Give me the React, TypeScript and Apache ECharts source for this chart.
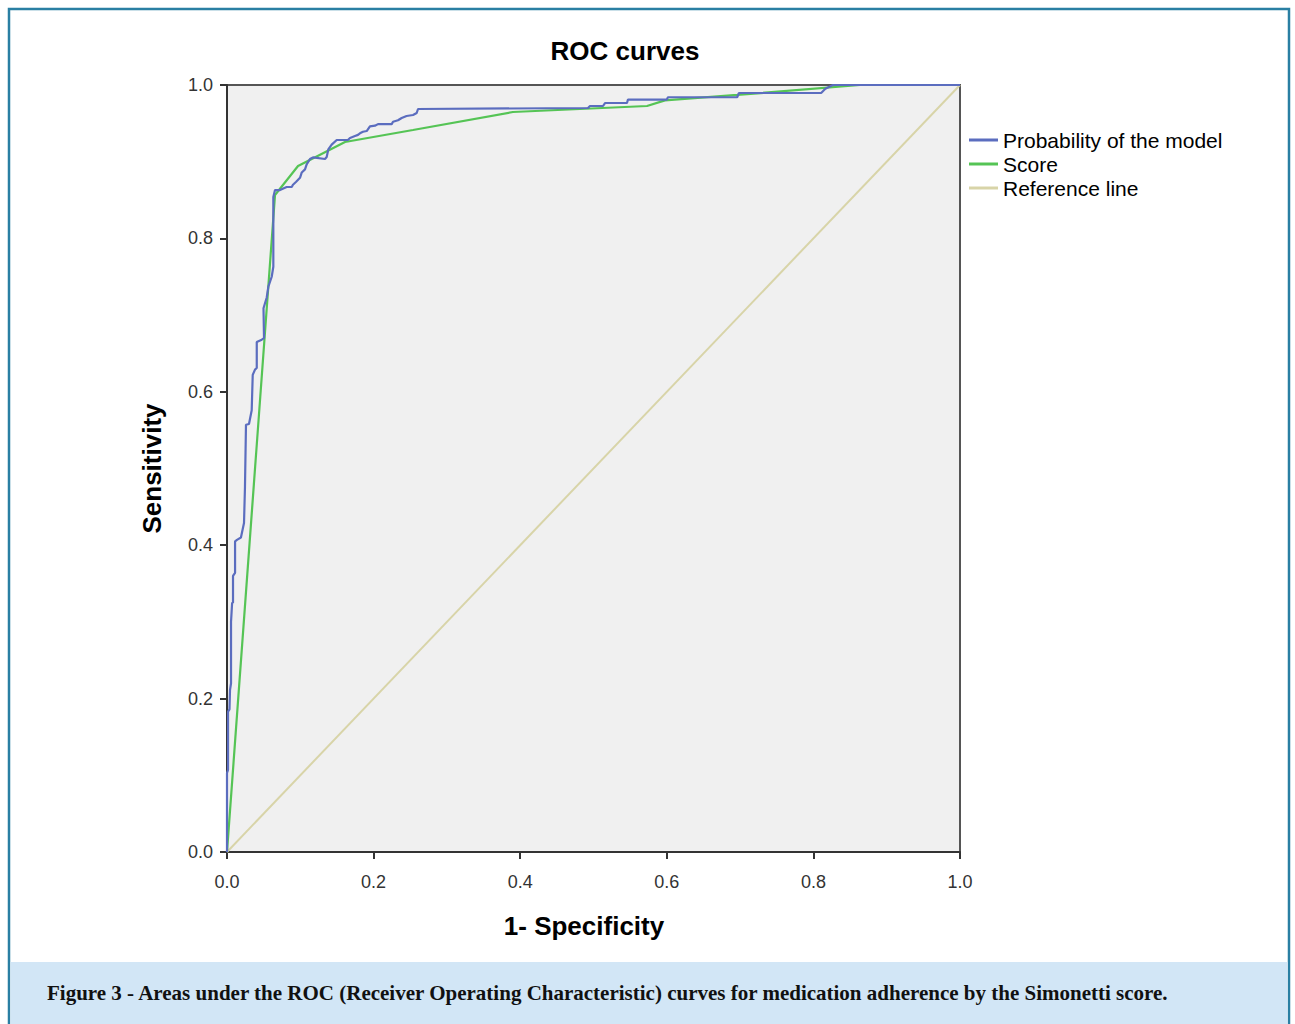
import React, { useEffect, useRef } from "react";
import * as echarts from "echarts";

const seriesNames = ["Probability of the model", "Score", "Reference line"];

// Probability of the model (step ROC curve)
const modelFpr = [0, 0, 0.0014, 0.0014, 0.0034, 0.0041, 0.0055, 0.0055, 0.007, 0.0082, 0.0082, 0.011, 0.011, 0.0136, 0.019, 0.0232, 0.0245, 0.0259, 0.03, 0.0337, 0.0351, 0.0382, 0.0406, 0.0406, 0.0474, 0.0505, 0.0498, 0.0542, 0.0564, 0.061, 0.0632, 0.0632, 0.0655, 0.0723, 0.0814, 0.0883, 0.09, 0.094, 0.0996, 0.102, 0.1064, 0.1087, 0.1132, 0.1173, 0.1337, 0.136, 0.1382, 0.1428, 0.1497, 0.165, 0.1678, 0.1746, 0.1787, 0.1814, 0.1855, 0.1906, 0.195, 0.2019, 0.206, 0.2247, 0.2265, 0.2333, 0.2383, 0.245, 0.2538, 0.2588, 0.2606, 0.4925, 0.4952, 0.513, 0.5157, 0.5457, 0.547, 0.6, 0.6016, 0.696, 0.6985, 0.8106, 0.8163, 0.8267, 1];
const modelTpr = [0, 0.103, 0.107, 0.183, 0.186, 0.211, 0.22, 0.3, 0.325, 0.325, 0.36, 0.364, 0.405, 0.407, 0.41, 0.429, 0.475, 0.557, 0.558, 0.576, 0.622, 0.629, 0.631, 0.665, 0.668, 0.67, 0.709, 0.723, 0.737, 0.75, 0.763, 0.854, 0.863, 0.863, 0.867, 0.867, 0.87, 0.8735, 0.879, 0.886, 0.89, 0.8965, 0.9035, 0.9056, 0.9035, 0.906, 0.916, 0.9222, 0.9283, 0.9283, 0.931, 0.9335, 0.935, 0.937, 0.939, 0.94, 0.946, 0.947, 0.949, 0.949, 0.952, 0.954, 0.957, 0.9596, 0.9609, 0.9635, 0.9687, 0.97, 0.9726, 0.9726, 0.9765, 0.9765, 0.981, 0.981, 0.984, 0.984, 0.9896, 0.9896, 0.995, 1, 1];

// Score (piecewise linear ROC curve)
const scoreFpr = [0, 0.0655, 0.0969, 0.161, 0.2537, 0.39, 0.573, 0.5975, 0.696, 0.8636, 1];
const scoreTpr = [0, 0.8566, 0.8944, 0.9257, 0.9413, 0.9648, 0.9726, 0.98, 0.987, 1, 1];

// Reference diagonal
const refFpr = [0, 1];
const refTpr = [0, 1];

const zip = (a: number[], b: number[]) => a.map((v, i) => [v, b[i]]);

export default function App() {
  const ref = useRef<HTMLDivElement>(null);
  useEffect(() => {
    if (!ref.current) return;
    const chart = echarts.init(ref.current, null, { renderer: "svg" });
    const sans = "'Liberation Sans', Arial, sans-serif";
    chart.setOption({
      animation: false,
      backgroundColor: "#ffffff",
      title: {
        text: "ROC curves",
        left: 620,
        top: 33,
        textAlign: "center",
        textStyle: { fontFamily: sans, fontSize: 26, fontWeight: "bold", color: "#000" },
      },
      legend: {
        orient: "vertical",
        left: 964,
        top: 123,
        icon: "rect",
        itemWidth: 29,
        itemHeight: 3,
        itemGap: 0,
        data: seriesNames,
        textStyle: { fontFamily: sans, fontSize: 21, lineHeight: 24, color: "#000" },
      },
      grid: {
        left: 227,
        top: 85,
        width: 733,
        height: 767,
        show: true,
        backgroundColor: "#f0f0f0",
        borderColor: "#555",
        borderWidth: 2,
      },
      xAxis: {
        type: "value",
        min: 0,
        max: 1,
        interval: 0.2,
        name: "1- Specificity",
        nameLocation: "middle",
        nameGap: 61,
        nameTextStyle: { fontFamily: sans, fontSize: 26, fontWeight: "bold", color: "#000", padding: [0, 19, 0, 0] },
        axisLine: { show: true, lineStyle: { color: "#333", width: 2 } },
        axisTick: { show: true, length: 7, lineStyle: { color: "#333", width: 2 } },
        axisLabel: {
          fontFamily: sans,
          fontSize: 18,
          color: "#333",
          margin: 21,
          formatter: (v: number) => v.toFixed(1),
        },
        splitLine: { show: false },
      },
      yAxis: {
        type: "value",
        min: 0,
        max: 1,
        interval: 0.2,
        name: "Sensitivity",
        nameLocation: "middle",
        nameGap: 62,
        nameTextStyle: { fontFamily: sans, fontSize: 26, fontWeight: "bold", color: "#000" },
        axisLine: { show: true, lineStyle: { color: "#333", width: 2 } },
        axisTick: { show: true, length: 7, lineStyle: { color: "#333", width: 2 } },
        axisLabel: {
          fontFamily: sans,
          fontSize: 18,
          color: "#333",
          margin: 14,
          formatter: (v: number) => v.toFixed(1),
        },
        splitLine: { show: false },
      },
      graphic: [
        {
          type: "rect",
          z: -10,
          silent: true,
          shape: { x: 9, y: 9, width: 1280, height: 1040 },
          style: { fill: "#ffffff", stroke: "#2a7fa3", lineWidth: 2.5 },
        },
        {
          type: "rect",
          z: -9,
          silent: true,
          shape: { x: 10.5, y: 962, width: 1277, height: 70 },
          style: { fill: "#d2e6f6" },
        },
        {
          type: "text",
          z: 10,
          x: 47,
          y: 993,
          style: {
            text: "Figure 3 - Areas under the ROC (Receiver Operating Characteristic) curves for medication adherence by the Simonetti score.",
            font: "bold 21px 'Liberation Serif', serif",
            fill: "#111",
            verticalAlign: "middle",
          },
        },
      ],
      series: [
        {
          name: seriesNames[2],
          type: "line",
          data: zip(refFpr, refTpr),
          showSymbol: false,
          color: "#d8d4a8",
          lineStyle: { width: 2, color: "#d8d4a8" },
          z: 1,
        },
        {
          name: seriesNames[1],
          type: "line",
          data: zip(scoreFpr, scoreTpr),
          showSymbol: false,
          color: "#55c455",
          lineStyle: { width: 2.2, color: "#55c455" },
          z: 2,
        },
        {
          name: seriesNames[0],
          type: "line",
          data: zip(modelFpr, modelTpr),
          showSymbol: false,
          color: "#5b6dbf",
          lineStyle: { width: 2.2, color: "#5b6dbf" },
          z: 3,
        },
      ],
    });
    return () => chart.dispose();
  }, []);
  return (
    <div
      ref={ref}
      style={{ position: "absolute", left: 0, top: 0, width: 1295, height: 1024, background: "#fff" }}
    />
  );
}
